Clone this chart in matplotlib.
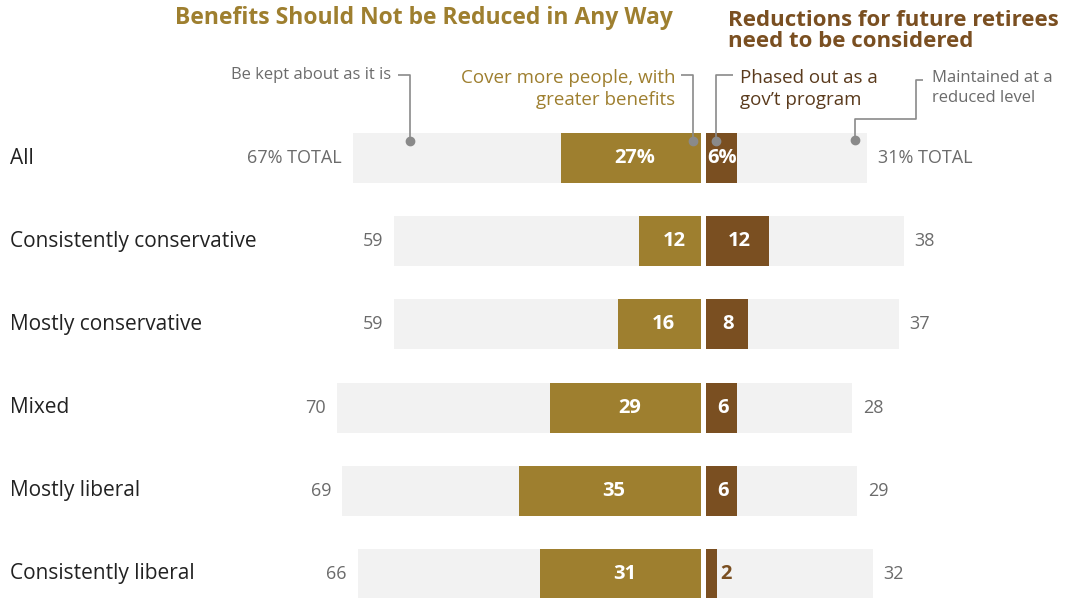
import matplotlib
matplotlib.use("Agg")
import matplotlib.pyplot as plt

plt.rcParams['font.family'] = ['Open Sans', 'DejaVu Sans']

categories = ["All", "Consistently conservative", "Mostly conservative",
              "Mixed", "Mostly liberal", "Consistently liberal"]
not_reduced_total = [67, 59, 59, 70, 69, 66]
cover_more = [27, 12, 16, 29, 35, 31]
reductions_total = [31, 38, 37, 28, 29, 32]
phased_out = [6, 12, 8, 6, 6, 2]

GOLD = "#9e7f2f"
BROWN = "#7a4f21"
GRAY_BAR = "#f2f2f2"
GRAY_TXT = "#6b6b6b"
LINE = "#8a8a8a"

W, H = 1070, 598
fig = plt.figure(figsize=(W / 100, H / 100), dpi=100)
ax = fig.add_axes([0, 0, 1, 1])

S = 5.2       # px per percentage point
C = 703.5     # px of center
ROW0, DY = 158, 83.2
ax.set_xlim(-C / S, (W - C) / S)
ax.set_ylim((H - ROW0) / DY, -ROW0 / DY)
ax.axis("off")

def px(x):
    return (x - C) / S

def py(y):
    return (y - ROW0) / DY

gap = 0.5
h = 0.6
n = len(categories)
ys = list(range(n))

ax.barh(ys, [-v for v in not_reduced_total], left=-gap, height=h, color=GRAY_BAR, zorder=1)
ax.barh(ys, reductions_total, left=gap, height=h, color=GRAY_BAR, zorder=1)
ax.barh(ys, [-v for v in cover_more], left=-gap, height=h, color=GOLD, zorder=2)
ax.barh(ys, phased_out, left=gap, height=h, color=BROWN, zorder=2)

off = 11 / S
for i in ys:
    ax.text(px(10), i, categories[i], ha="left", va="center", fontsize=15, color="#222222")
    lt = f"{not_reduced_total[i]}% TOTAL" if i == 0 else f"{not_reduced_total[i]}"
    rt = f"{reductions_total[i]}% TOTAL" if i == 0 else f"{reductions_total[i]}"
    ax.text(-gap - not_reduced_total[i] - off, i, lt, ha="right", va="center",
            fontsize=13, color=GRAY_TXT)
    ax.text(gap + reductions_total[i] + off, i, rt, ha="left", va="center",
            fontsize=13, color=GRAY_TXT)
    gl = f"{cover_more[i]}%" if i == 0 else f"{cover_more[i]}"
    ax.text(-gap - cover_more[i] / 2 + 0.8, i, gl, ha="center", va="center",
            fontsize=14.5, color="white", fontweight="bold", zorder=3)
    bl = f"{phased_out[i]}%" if i == 0 else f"{phased_out[i]}"
    if phased_out[i] >= 4:
        if i == 0:
            ax.text(gap + 0.2, i, bl, ha="left", va="center",
                    fontsize=14.5, color="white", fontweight="bold", zorder=3)
        else:
            ax.text(gap + phased_out[i] / 2 + 0.3, i, bl, ha="center", va="center",
                    fontsize=14.5, color="white", fontweight="bold", zorder=3)
    else:
        ax.text(gap + phased_out[i] + 0.7, i, bl, ha="left", va="center",
                fontsize=14.5, color=BROWN, fontweight="bold", zorder=3)

# Headers
ax.text(px(175), py(18), "Benefits Should Not be Reduced in Any Way", ha="left", va="center",
        fontsize=16.5, fontweight="bold", color=GOLD)
ax.text(px(728), py(31), "Reductions for future retirees\nneed to be considered", ha="left",
        va="center", fontsize=16, fontweight="bold", color=BROWN, linespacing=0.95)

# Annotations
def leader(points, dot):
    xs = [px(p[0]) for p in points]
    yv = [py(p[1]) for p in points]
    ax.plot(xs, yv, color=LINE, lw=1.2, zorder=4, solid_capstyle="butt")
    ax.plot([px(dot[0])], [py(dot[1])], "o", color=LINE, ms=6, zorder=5)

ax.text(px(391), py(75), "Be kept about as it is", ha="right", va="center",
        fontsize=12, color=GRAY_TXT)
leader([(398, 75), (410, 75), (410, 141)], (410, 141))

ax.text(px(675), py(89), "Cover more people, with\ngreater benefits", ha="right",
        va="center", fontsize=13.5, color=GOLD, linespacing=1.3)
leader([(681, 75), (693, 75), (693, 141)], (693, 141))

ax.text(px(740), py(89), "Phased out as a\ngov\u2019t program", ha="left",
        va="center", fontsize=13.5, color="#5a3a1c", linespacing=1.3)
leader([(733, 75), (716, 75), (716, 141)], (716, 141))

ax.text(px(932), py(88), "Maintained at a\nreduced level", ha="left",
        va="center", fontsize=12, color=GRAY_TXT, linespacing=1.25)
leader([(923, 80), (916, 80), (916, 119), (855, 119), (855, 140)], (855, 140))

fig.savefig("out.png", dpi=100)
